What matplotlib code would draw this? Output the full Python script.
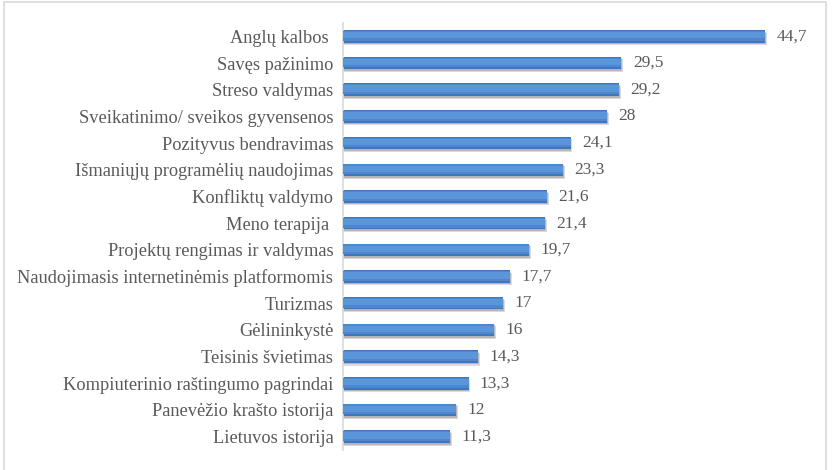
import matplotlib.pyplot as plt
from matplotlib.patches import Rectangle

categories = ['Anglų kalbos ', 'Savęs pažinimo', 'Streso valdymas',
              'Sveikatinimo/ sveikos gyvensenos', 'Pozityvus bendravimas',
              'Išmaniųjų programėlių naudojimas', 'Konfliktų valdymo',
              'Meno terapija ', 'Projektų rengimas ir valdymas',
              'Naudojimasis internetinėmis platformomis', 'Turizmas',
              'Gėlininkystė', 'Teisinis švietimas',
              'Kompiuterinio raštingumo pagrindai',
              'Panevėžio krašto istorija', 'Lietuvos istorija']
values = [44.7, 29.5, 29.2, 28, 24.1, 23.3, 21.6, 21.4, 19.7, 17.7, 17,
          16, 14.3, 13.3, 12, 11.3]
value_labels = ['44,7', '29,5', '29,2', '28', '24,1', '23,3', '21,6', '21,4',
                '19,7', '17,7', '17', '16', '14,3', '13,3', '12', '11,3']

plt.rcParams['font.family'] = ['Liberation Serif', 'DejaVu Serif']
txt = '#595959'

fig = plt.figure(figsize=(8.35, 4.7), dpi=100)
ax = fig.add_axes([343 / 835, 1 - 450 / 470, (815 - 343) / 835, (450 - 23) / 470])

ypos = list(range(len(values)))
# soft shadow under the bars
ax.barh([y + 0.1 for y in ypos], [v + 0.2 for v in values], height=0.47,
        color='#9a9a9a', alpha=0.35, linewidth=0, zorder=1)
ax.barh([y + 0.06 for y in ypos], [v + 0.1 for v in values], height=0.47,
        color='#808080', alpha=0.4, linewidth=0, zorder=1)
# bar with a simple vertical gradient
ax.barh(ypos, values, height=0.47, color='#4077bb', linewidth=0, zorder=2)
ax.barh([y - 0.02 for y in ypos], values, height=0.37, color='#4d88cd',
        linewidth=0, zorder=3)
ax.barh([y - 0.04 for y in ypos], values, height=0.24, color='#5b96da',
        linewidth=0, zorder=4)

for y, v, lab in zip(ypos, values, value_labels):
    ax.text(v + 1.2, y, lab, va='center', ha='left', fontsize=12.5, color=txt)

ax.set_xlim(0, 50)
ax.set_ylim(len(values) - 0.5, -0.5)
ax.set_yticks(ypos)
ax.set_yticklabels(categories, fontsize=13.2, color=txt)
ax.tick_params(axis='y', length=0, pad=7)
ax.set_xticks([])
for s in ['top', 'right', 'bottom']:
    ax.spines[s].set_visible(False)
ax.spines['left'].set_color('#d9d9d9')
ax.spines['left'].set_linewidth(1.2)

fig.patches.append(Rectangle((4 / 835, -0.05), (826 - 4) / 835, 1.05 - 2 / 470,
                             transform=fig.transFigure, fill=False,
                             edgecolor='#d9d9d9', linewidth=1.2))

fig.savefig('out.png', dpi=100)
